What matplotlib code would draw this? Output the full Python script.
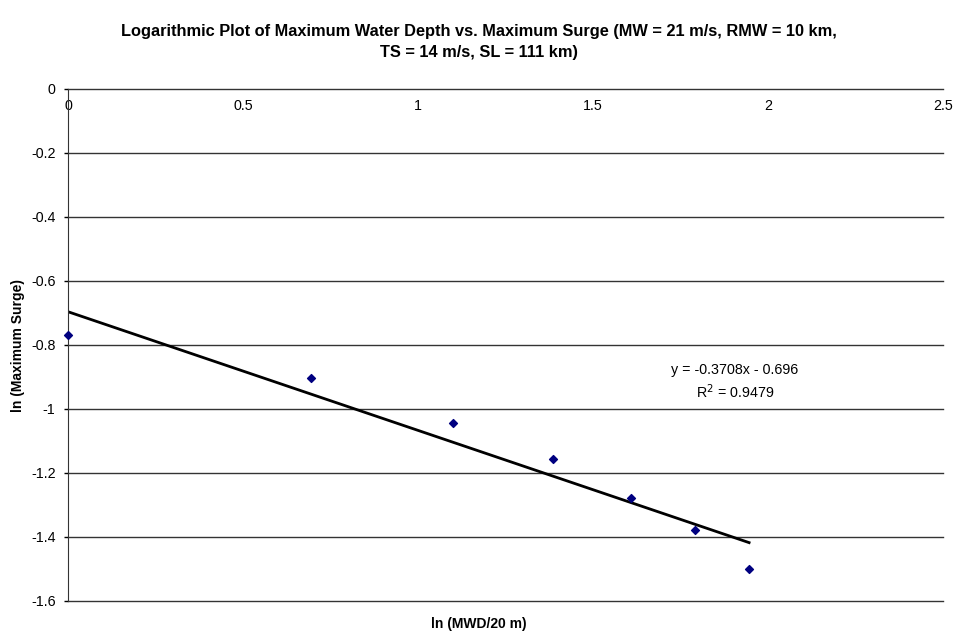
import numpy as np
import matplotlib.pyplot as plt

plt.rcParams['font.family'] = ['Liberation Sans', 'DejaVu Sans']

# ln(MWD/20 m) and ln(maximum surge)
ln_mwd = [0.0, 0.693, 1.099, 1.386, 1.609, 1.792, 1.946]
ln_surge = [-0.769, -0.904, -1.044, -1.156, -1.279, -1.379, -1.500]

# trendline shown on the chart
slope = -0.3708
intercept = -0.696
r2 = 0.9479

x_ticks = [0, 0.5, 1, 1.5, 2, 2.5]
x_tick_labels = ['0', '0.5', '1', '1.5', '2', '2.5']
y_ticks = [0, -0.2, -0.4, -0.6, -0.8, -1, -1.2, -1.4, -1.6]
y_tick_labels = ['0', '-0.2', '-0.4', '-0.6', '-0.8', '-1', '-1.2', '-1.4', '-1.6']

fig = plt.figure(figsize=(9.57, 6.38), dpi=100)
ax = fig.add_axes([68 / 957, 1 - 601 / 638, (943 - 68) / 957, (601 - 89) / 638])

for yt in y_ticks:
    ax.axhline(yt, color='#333333', lw=1.0, zorder=1, clip_on=False)

ax.scatter(ln_mwd, ln_surge, marker='D', s=16, color='#000080', zorder=3, clip_on=False)

xs = np.array([0, ln_mwd[-1]])
ax.plot(xs, slope * xs + intercept, color='black', lw=2, zorder=2)

ax.set_xlim(0, 2.5)
ax.set_ylim(-1.6, 0)
ax.set_xticks(x_ticks)
ax.set_xticklabels(x_tick_labels)
ax.set_yticks(y_ticks)
ax.set_yticklabels(y_tick_labels)
ax.xaxis.tick_top()
ax.tick_params(axis='x', length=0, pad=-17, labelsize=10.3)
ax.tick_params(axis='y', length=3, width=1, labelsize=10.3, color='black', pad=6)

for side in ['right', 'bottom', 'top']:
    ax.spines[side].set_visible(False)
ax.spines['left'].set_color('#333333')

ax.text(1.906, -0.916, 'y = -0.3708x - 0.696\nR$^2$ = %.4f' % r2,
        ha='center', va='center', fontsize=10.3, linespacing=1.3)

fig.text(0.5, 1 - 624 / 638, 'ln (MWD/20 m)', ha='center', va='center',
         fontsize=10, fontweight='bold')
fig.text(18 / 957, 1 - 345 / 638, 'ln (Maximum Surge)', ha='center', va='center',
         rotation=90, fontsize=10, fontweight='bold')
fig.text(0.5, 1 - 42 / 638,
         'Logarithmic Plot of Maximum Water Depth vs. Maximum Surge (MW = 21 m/s, RMW = 10 km,\nTS = 14 m/s, SL = 111 km)',
         ha='center', va='center', fontsize=11.8, fontweight='bold', linespacing=1.45)

fig.savefig('out.png', dpi=100)
